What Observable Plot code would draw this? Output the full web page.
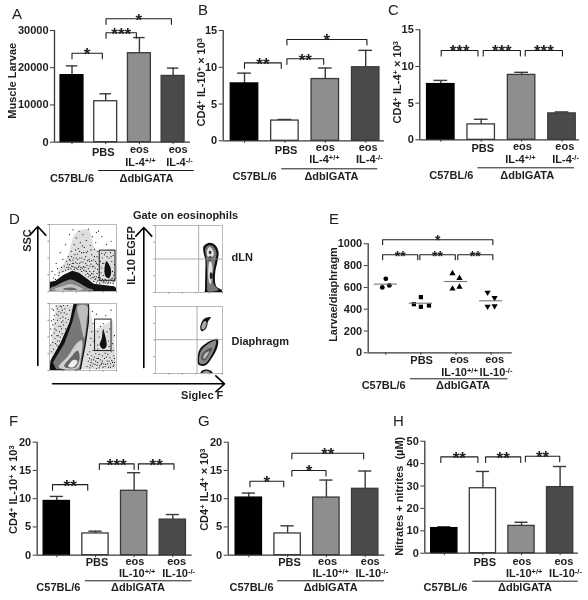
<!DOCTYPE html>
<html><head><meta charset="utf-8">
<script src="https://cdn.jsdelivr.net/npm/d3@7"></script>
<script src="https://cdn.jsdelivr.net/npm/@observablehq/plot@0.6"></script>
<style>
html,body{margin:0;padding:0;background:#fff}
#fig{position:relative;width:588px;height:600px;overflow:hidden;background:#fff;font-family:"Liberation Sans",Arial,sans-serif;filter:blur(.3px)}
#fig svg{position:absolute;overflow:visible;background:transparent}
.letter{position:absolute;font-size:15px;line-height:15px;color:#222}
</style></head><body><div id="fig"></div>
<script>
// ---- values ----
const strain = "C57BL/6", mutant = "ΔdblGATA";
const barFills = ["#000000", "#ffffff", "#8e8e8e", "#4a4a4a"];

const valuesA = [18000, 11000, 23900, 17800];
const errorsA = [20500, 13000, 28100, 19900];
const valuesB = [7.8, 2.75, 8.4, 10.0];
const errorsB = [9.2, 2.9, 9.9, 12.3];
const valuesC = [7.6, 2.1, 8.85, 3.6];
const errorsC = [8.1, 2.8, 9.2, 3.8];
const valuesF = [9.6, 3.85, 11.4, 6.3];
const errorsF = [10.4, 4.25, 14.6, 7.2];
const valuesG = [10.2, 3.85, 10.2, 11.75];
const errorsG = [11.0, 5.2, 13.3, 14.9];
const valuesH = [11.2, 29, 12.2, 29.5];
const errorsH = [11.8, 36.5, 13.8, 38.7];

// from, to, level, stars
const bracketsA = [[0, .9, 23900, "*"], [1.01, 1.91, 29400, "***"], [1.01, 2.95, 33150, "*"]];
const bracketsB = [[0, .91, 10.6, "**"], [1.05, 1.96, 11.15, "**"], [1.05, 3.03, 13.77, "*"]];
const bracketsC = [[.01, .92, 12.18, "***"], [1.05, 1.97, 12.18, "***"], [2.09, 3.01, 12.18, "***"]];
const bracketsE = [[-.09, .91, 899, "**"], [.97, 1.98, 899, "**"], [2.05, 3.05, 899, "**"], [-.09, 3.05, 1037, "*"]];
const bracketsF = [[-.11, .8, 12.5, "**"], [1.1, 2, 16.17, "***"], [2.11, 3.03, 16.17, "**"]];
const bracketsG = [[.03, .9, 13.1, "*"], [1.11, 1.99, 15, "*"], [1.11, 2.96, 18.05, "**"]];
const bracketsH = [[-.09, .87, 43, "**"], [1.07, 1.98, 43, "**"], [2.1, 2.99, 43.3, "**"]];

// text, group position, distance under the axis
const labelsA = [["PBS", .93, 10], ["eos", 2, 7.3], ["eos", 3.15, 7.3], ["IL-4^{+/+}", 2.03, 20], ["IL-4^{-/-}", 3.19, 20], [strain, 0, 36.6], [mutant, 2.21, 36.6]];
const labelsB = [["PBS", 1.03, 9.7], ["eos", 2, 7], ["eos", 3.06, 7], ["IL-4^{+/+}", 1.98, 19], ["IL-4^{-/-}", 3.09, 19], [strain, .25, 35.7], [mutant, 2.15, 35.7]];
const labelsC = [["PBS", 1.04, 9], ["eos", 2.02, 6.7], ["eos", 3.07, 6.7], ["IL-4^{+/+}", 1.97, 19.7], ["IL-4^{-/-}", 3.09, 19.7], [strain, .26, 35.4], [mutant, 2.14, 35.4]];
const labelsE = [["PBS", 1.02, 7.7], ["eos", 2.1, 7], ["eos", 3.1, 7], ["IL-10^{+/+}", 2.1, 19.4], ["IL-10^{-/-}", 3.14, 19.4], [strain, -.06, 32.7], [mutant, 2.2, 32.7]];
const labelsF = [["PBS", 1.04, 7.3], ["eos", 2.02, 6.6], ["eos", 3.1, 6.6], ["IL-10^{+/+}", 2.08, 18.6], ["IL-10^{-/-}", 3.15, 18.6], [strain, .04, 32.6], [mutant, 2.1, 32.6]];
const labelsG = [["PBS", 1.05, 7.3], ["eos", 2.03, 6.6], ["eos", 3.13, 6.6], ["IL-10^{+/+}", 2.11, 18.6], ["IL-10^{-/-}", 3.17, 18.6], [strain, .07, 32.6], [mutant, 2.11, 32.6]];
const labelsH = [["PBS", 1.05, 9.3], ["eos", 2.01, 8.6], ["eos", 3.1, 8.6], ["IL-10^{+/+}", 2.07, 20.6], ["IL-10^{-/-}", 3.14, 20.6], [strain, .03, 34.6], [mutant, 2.09, 34.6]];

// panel E individual animals: group, jitter, value
const pointsCircle = [[0, 0, 679], [0, -.1, 600], [0, .1, 618]];
const pointsSquare = [[1, 0, 511], [1, -.2, 446], [1, 0, 422], [1, .23, 434]];
const pointsUp = [[2, -.1, 728], [2, .1, 685], [2, -.1, 587], [2, .1, 605]];
const pointsDown = [[3, -.1, 553], [3, .1, 504], [3, -.1, 425], [3, .1, 428]];
const meansE = [630, 455, 654, 477];

// panel D: hand-read outlines, in percent of each plot
const sscTopDots = [[22,38],[25,45],[28,52],[30,40],[33,60],[35,47],[37,70],[38,55],[40,80],[41,42],[43,64],[44,90],[45,50],[46,73],[47,36],[48,58],[50,85],[50,44],[52,66],[53,31],[54,52],[55,76],[56,39],[57,60],[58,93],[59,48],[60,30],[61,69],[62,41],[63,55],[64,82],[65,26],[66,47],[67,63],[68,35],[69,73],[70,22],[71,52],[72,40],[73,90],[74,29],[4,30],[8,25],[12,34],[15,28],[18,36],[6,20],[10,42],[20,48],[16,58],[24,70],[30,85],[35,92],[28,33],[33,38],[38,36],[42,33],[76,20],[78,35],[79,50],[80,24],[81,42],[82,55],[83,18],[84,58],[88,22],[89,50],[90,36],[91,58],[92,19],[93,45],[94,30],[95,54],[96,24],[97,40],[78,57],[86,52],[76,45],[96,15],[88,14],[80,13],[72,16],[75,12],[68,18],[85,70],[92,75],[78,82],[70,88],[60,12],[31,46],[36,42],[39,62],[42,48],[45,60],[47,44],[49,68],[51,37],[52,48],[55,58],[58,34],[60,45],[62,62],[64,37],[66,30],[67,52],[70,42],[72,60],[74,50],[77,28],[79,42],[83,30],[85,26],[87,38],[90,27],[92,52],[94,20],[97,28],[54,25],[58,22],[62,20],[66,15],[70,13],[44,38],[48,30],[40,50],[34,42],[26,36],[20,30],[14,24],[9,18],[29,36],[32,34],[35,37],[37,33],[40,35],[43,36],[46,33],[49,35],[51,32],[53,36],[55,30],[57,27],[59,25],[61,24],[63,27],[65,21],[67,22],[69,19],[71,27],[73,21],[75,17],[77,16],[79,18],[81,15],[83,13],[85,16],[87,12],[89,17],[91,13],[93,17],[95,12],[97,19],[24,32],[27,41],[30,48],[33,52],[36,50],[39,44],[42,56],[45,42],[48,50],[51,58],[54,42],[57,46],[60,38],[63,46],[66,38],[69,45],[72,33],[75,38]];
const sscBottomDots = [[4,20],[6,32],[8,48],[9,26],[10,60],[11,38],[12,75],[13,52],[14,88],[15,44],[17,66],[18,95],[19,55],[20,80],[21,68],[23,92],[24,62],[26,84],[27,97],[28,76],[30,90],[5,68],[3,52],[7,82],[4,92],[10,96],[2,38],[16,78],[22,50],[13,36],[8,62],[6,76],[11,84],[15,58],[18,72],[25,72],[60,4],[62,12],[63,22],[64,6],[65,30],[66,16],[68,9],[69,25],[70,3],[71,18],[72,12],[74,24],[75,7],[76,16],[78,11],[79,22],[80,5],[82,18],[83,26],[84,9],[86,14],[87,24],[88,5],[90,19],[91,10],[92,28],[93,15],[95,6],[96,22],[97,12],[61,38],[62,48],[63,58],[65,70],[70,84],[72,38],[74,50],[76,66],[78,42],[80,70],[82,34],[86,58],[88,44],[90,62],[72,58],[66,44],[94,40],[97,52],[64,88],[84,82],[92,90],[60,28],[58,14],[57,24],[56,6],[72,32],[77,30],[86,30],[89,36],[95,30],[3,28],[5,42],[7,56],[9,70],[12,44],[14,66],[16,50],[18,62],[20,74],[22,86],[24,78],[6,90],[12,92],[16,96],[21,97],[3,74],[2,62],[9,40],[11,52],[13,82],[17,86],[19,90],[60,18],[61,8],[63,16],[65,10],[67,20],[69,14],[71,8],[73,18],[74,4],[77,9],[79,14],[81,10],[83,6],[85,20],[87,10],[89,14],[91,5],[94,12],[96,8],[97,18]];
const sscTopShapes = [
  {fill:"#dedede", pts:[[12,26],[26,50],[40,88],[58,92],[70,62],[98,62],[98,14],[60,16],[30,30]]},
  {fill:"#111", curve:"linear-closed", pts:[[0,14],[9,16],[21,25],[34,31],[44,28],[56,19],[66,11.5],[96,8],[100,5],[100,0],[0,0]]},
  {fill:"#888", pts:[[1,5],[10,9],[20,14],[32,18],[44,13],[56,6],[66,2],[60,1],[2,1]]},
  {fill:"#c4c4c4", pts:[[8,4],[20,8],[32,11],[44,7],[50,3],[8,2]]},
  {fill:"#666", pts:[[20,4],[32,6],[42,3],[22,2.5]]},
  {fill:"#111", pts:[[85,45],[82,32],[84,22],[89,20],[92,28],[90,38]]}
];
const sscBottomShapes = [
  {fill:"#dedede", curve:"linear-closed", pts:[[0,25],[10,98],[36,98],[60,98],[66,60],[95,75],[99,2],[45,2]]},
  {fill:"#111", curve:"linear-closed", pts:[[0,0],[1.5,15],[17,42.5],[30,72.5],[36,100],[59,100],[59,72.5],[54,37.5],[49,12.5],[47,1.5]]},
  {fill:"#777", curve:"linear-closed", pts:[[5,12],[22,40],[34,72],[41,100],[58,100],[57,72],[52,38],[47,12],[45,2],[10,2]]},
  {fill:"#bdbdbd", pts:[[42,96],[56,96],[55,72],[52,48],[46,72]]},
  {fill:"#d0d0d0", pts:[[14,5],[28,22],[40,40],[48,45],[47,20],[42,3]]},
  {fill:"#666", pts:[[22,6],[32,20],[42,30],[45,18],[38,4]]},
  {fill:"#eee", pts:[[28,6],[36,16],[42,14],[36,5]]},
  {fill:"#111", pts:[[80,62],[78,48],[75,38],[80,32],[85,36],[84,48],[82,56]]}
];
const egfpTopShapes = [
  {fill:"#111", pts:[[71.8,69],[79,74],[89,71],[94,61],[92.6,46.5],[89,29],[90.6,9.4],[99,3.5],[99,-1],[74.3,-1],[74,7],[74.3,29],[74.3,49],[71.8,59]]},
  {fill:"#777", pts:[[74.5,66],[80,71],[87,68],[91,59],[89,46],[86,29],[87,12],[94,4],[78,2],[77,10],[77,29],[76,50]]},
  {fill:"#e4e4e4", pts:[[77,63],[81,68],[85,64],[87,57],[83,50],[85,38],[84,22],[82,12],[79,20],[79,38],[80,50],[77,56]]},
  {fill:"#333", pts:[[80,62],[83,62],[83,58],[80,58]]},
  {fill:"#555", pts:[[78,52],[82,55],[85,51],[82,46],[78,48]]},
  {fill:"#222", pts:[[82,30],[85,28],[85,22],[82,20],[81,25]]}
];
const egfpBottomShapes = [
  {fill:"#111", pts:[[66.8,68],[71.8,81],[82.7,84],[78.7,78],[75.7,68],[69.3,63]]},
  {fill:"#aaa", pts:[[68.5,69],[72.5,78],[76,77],[74,68],[70,65.5]]},
  {fill:"#111", pts:[[62.9,21],[65.8,36],[76.7,46],[92.6,51.5],[92.6,40],[84,23],[74.3,12],[64.4,13]]},
  {fill:"#8a8a8a", pts:[[65,22],[68,34],[77,43],[90,49],[89,40],[82,25],[74,15],[66,15]]},
  {fill:"#555", pts:[[68,22],[71,31],[79,37],[85,38],[80,28],[73,19]]},
  {fill:"#bbb", pts:[[71,24],[74,30],[80,33],[77,27],[73,22]]},
  {fill:"#111", pts:[[66.8,-1],[69.3,4],[76.7,6],[84,3],[85.6,-1]]},
  {fill:"#999", pts:[[70,0],[72,3],[77,4],[81,2],[82,0]]}
];

// ---- helpers ----
const ink = "#1e1e1e", axisInk = "#3a3a3a";
const fig = document.getElementById("fig");
const textStyle = {fontFamily:'"Liberation Sans",Arial,sans-serif', fontWeight:"bold", fontSize:11, fill:ink};

function superscripts(svg){
  svg.querySelectorAll("text").forEach(t=>{
    if(!t.textContent.includes("^")) return;
    const parts = t.textContent.split(/(\^\{[^}]*\})/);
    t.textContent = "";
    parts.forEach(p=>{
      if(!p) return;
      const s = document.createElementNS("http://www.w3.org/2000/svg","tspan");
      if(p[0]==="^"){ s.textContent = p.slice(2,-1); s.setAttribute("font-size","7.5"); s.setAttribute("baseline-shift","3.5"); }
      else s.textContent = p;
      t.appendChild(s);
    });
  });
}
function place(svg,l,t){ svg.style.left=l+"px"; svg.style.top=t+"px"; superscripts(svg); fig.appendChild(svg); }
function letter(s,x,y){ const d=document.createElement("div"); d.className="letter"; d.textContent=s; d.style.left=x+"px"; d.style.top=y+"px"; fig.appendChild(d); }

function bracketMarks(brackets, legFrac, starFont=17, starDy=1.5){
  const path = brackets.flatMap(([a,b,lv],i)=>[
    {k:i,x:a,y:lv-legFrac},{k:i,x:a,y:lv},{k:i,x:b,y:lv},{k:i,x:b,y:lv-legFrac}]);
  return [
    Plot.line(path,{x:"x",y:"y",z:"k",stroke:ink,strokeWidth:1.1}),
    Plot.text(brackets,{x:d=>(d[0]+d[1])/2,y:d=>d[2],text:d=>d[3],...textStyle,fontSize:starFont,dy:starDy})
  ];
}
function frameMarks(c){
  return [
    Plot.ruleY([0],{stroke:axisInk,strokeWidth:1.3}),
    Plot.ruleX([c.xd[0]],{y1:0,y2:c.yMax,stroke:axisInk,strokeWidth:1.3}),
    Plot.axisY({ticks:c.yTicks,tickFormat:d=>String(d),tickSize:4,tickPadding:2,label:null,stroke:axisInk,...textStyle}),
    Plot.axisX({ticks:[0,1,2,3],tickFormat:()=>"",tickSize:2.5,label:null,stroke:axisInk}),
    Plot.text([c.yLabel],{x:c.xd[0],y:d=>d[2],text:d=>d[0],dx:c.yLabel[1],rotate:-90,...textStyle}),
    ...c.labels.map(d=>Plot.text([d],{x:d[1],y:0,dy:d[2],text:[d[0]],...textStyle})),
    Plot.ruleY([0],{x1:c.under[0],x2:c.under[1],dy:c.under[2],stroke:ink,strokeWidth:1})
  ];
}
function makeScales(c){
  const [l,t,w,h]=c.box;
  c.xd=[(c.x0-c.c0)/c.step,(c.x1-c.c0)/c.step];
  return {width:w,height:h,marginLeft:c.x0-l,marginRight:l+w-c.x1,marginTop:c.yTop-t,marginBottom:t+h-c.yBase,
    x:{domain:c.xd,axis:null},y:{domain:[0,c.yMax],axis:null},style:{background:"transparent"}};
}
function barPanel(c){
  const rows=c.values.map((v,i)=>({i,v,e:c.errors[i],f:barFills[i]}));
  const svg=Plot.plot({...makeScales(c),marks:[
    Plot.ruleX(rows,{x:"i",y1:"v",y2:"e",stroke:axisInk,strokeWidth:1.4}),
    Plot.ruleY(rows,{y:"e",x1:d=>d.i-.17,x2:d=>d.i+.17,stroke:axisInk,strokeWidth:1.4}),
    Plot.rect(rows,{x1:d=>d.i-.34,x2:d=>d.i+.34,y1:0,y2:"v",fill:"f",stroke:d=>d.f==="#000000"?"#000":"#3a3a3a",strokeWidth:1.3}),
    ...frameMarks(c),
    ...bracketMarks(c.brackets,c.yMax*.05)
  ]});
  place(svg,c.box[0],c.box[1]);
}
function flowPlot(l,t,size,shapes,dots,gate,quad){
  const marks=[];
  shapes.forEach((s,i)=>{
    if(dots && i===1) marks.push(Plot.dot(dots,{x:d=>d[0],y:d=>d[1],r:.6,fill:"#111",stroke:"none"}));
    marks.push(Plot.line(s.pts,{x:d=>d[0],y:d=>d[1],fill:s.fill,stroke:"none",curve:s.curve||"catmull-rom-closed",clip:true}));
  });
  if(gate) marks.push(Plot.rect([gate],{x1:d=>d[0],x2:d=>d[1],y1:d=>d[2],y2:d=>d[3],fill:"none",stroke:"#222",strokeWidth:1}));
  if(quad) marks.push(Plot.ruleX([quad[0]],{stroke:"#999",strokeWidth:.8}),Plot.ruleY([quad[1]],{stroke:"#999",strokeWidth:.8}));
  marks.push(Plot.frame({stroke:"#aaa",strokeWidth:.8}));
  marks.push(Plot.axisX({ticks:[20,40,60,80,100],tickFormat:()=>"",tickSize:1.5,label:null,stroke:"#888"}));
  marks.push(Plot.axisY({ticks:[0,25,50,75,100],tickFormat:()=>"",tickSize:1.5,label:null,stroke:"#888"}));
  const svg=Plot.plot({width:size+4,height:size+4,marginLeft:3,marginRight:1,marginTop:1,marginBottom:3,
    x:{domain:[0,100]},y:{domain:[0,100]},style:{background:"transparent"},marks});
  place(svg,l-3,t-1);
}

// ---- panels A, B, C ----
barPanel({box:[0,0,196,192],x0:54,x1:190,c0:71.5,step:33.7,yBase:141.7,yTop:30,yMax:30000,yTicks:[0,10000,20000,30000],
  values:valuesA,errors:errorsA,brackets:bracketsA,labels:labelsA,under:[.79,3.63,28.3],yLabel:["Muscle Larvae",-42.3,16500]});
barPanel({box:[196,0,190,192],x0:222.7,x1:384,c0:244,step:40.4,yBase:140.3,yTop:30,yMax:15,yTicks:[0,5,10,15],
  values:valuesB,errors:errorsB,brackets:bracketsB,labels:labelsB,under:[.92,3.3,28],yLabel:["CD4^{+} IL-10^{+} × 10^{3}",-21.7,7.97]});
barPanel({box:[386,0,202,192],x0:419.3,x1:579,c0:440.3,step:40.4,yBase:139.3,yTop:29.3,yMax:15,yTicks:[0,5,10,15],
  values:valuesC,errors:errorsC,brackets:bracketsC,labels:labelsC,under:[.92,3.31,28],yLabel:["CD4^{+} IL-4^{+} × 10^{3}",-22,7.85]});

// ---- panel D ----
flowPlot(49,224,67,sscTopShapes,sscTopDots,[75,98.5,16,61],null);
flowPlot(49,303,67,sscBottomShapes,sscBottomDots,[68,92.6,29,76],null);
flowPlot(155,224.5,67,egfpTopShapes,null,null,[64.4,50]);
flowPlot(155,305.5,67,egfpBottomShapes,null,null,[62,50.5]);

const arrowsD=[[37.3,365,37.3,226],[143.3,367,143.3,227],[52,383.3,224,383.3]];
const wordsD=[
  ["SSC",27.3,240,-90,"middle"],["IL-10 EGFP",130.7,255,-90,"middle"],["Gate on eosinophils",185,214.7,0,"middle"],
  ["dLN",231,257,0,"start"],["Diaphragm",231,341.3,0,"start"],["Siglec F",201.7,395,0,"middle"]];
place(Plot.plot({width:320,height:195,margin:0,x:{domain:[0,320],axis:null},y:{domain:[205,400],range:[0,195],axis:null},
  style:{background:"transparent"},marks:[
  Plot.arrow(arrowsD,{x1:d=>d[0],y1:d=>d[1],x2:d=>d[2],y2:d=>d[3],stroke:"#000",strokeWidth:1.6,headLength:11,headAngle:85}),
  ...wordsD.map(d=>Plot.text([d],{x:d[1],y:d[2],text:[d[0]],rotate:d[3],textAnchor:d[4],...textStyle}))
]}),0,205);

// ---- panel E ----
(function(){
  const c={box:[320,205,268,195],x0:367.7,x1:511.7,c0:385.3,step:35.1,yBase:352.3,yTop:243.3,yMax:1000,yTicks:[0,200,400,600,800,1000],
    labels:labelsE,under:[.7,3.48,26],yLabel:["Larvae/diaphragm",-34.7,535]};
  const pt={x:d=>d[0]+d[1],y:d=>d[2],fill:"#000",stroke:"none"};
  const svg=Plot.plot({...makeScales(c),marks:[
    Plot.dot(pointsCircle,{...pt,symbol:"circle",r:2.4}),
    Plot.dot(pointsSquare,{...pt,symbol:"square",r:2.4}),
    Plot.dot(pointsUp,{...pt,symbol:"triangle",r:2.3}),
    Plot.dot(pointsDown,{...pt,symbol:"triangle",r:2.3,rotate:180}),
    Plot.ruleY(meansE,{y:d=>d,x1:(d,i)=>i-.33,x2:(d,i)=>i+.33,stroke:"#777",strokeWidth:1.1}),
    ...frameMarks(c),
    ...bracketMarks(bracketsE.slice(0,3),45,14,1.5),
    ...bracketMarks(bracketsE.slice(3),45,14,.5)
  ]});
  place(svg,c.box[0],c.box[1]);
})();

// ---- panels F, G, H ----
barPanel({box:[0,400,196,200],x0:36.7,x1:191.7,c0:56.3,step:38.67,yBase:554.7,yTop:441.7,yMax:20,yTicks:[0,5,10,15,20],
  values:valuesF,errors:errorsF,brackets:bracketsF,labels:labelsF,under:[.74,3.5,25.6],yLabel:["CD4^{+} IL-10^{+} × 10^{3}",-23.7,11.6]});
barPanel({box:[196,400,192,200],x0:227.7,x1:384.3,c0:248.3,step:38.8,yBase:554.7,yTop:441.7,yMax:20,yTicks:[0,5,10,15,20],
  values:valuesG,errors:errorsG,brackets:bracketsG,labels:labelsG,under:[.74,3.5,25.6],yLabel:["CD4^{+} IL-4^{+} × 10^{3}",-23.4,11.6]});
barPanel({box:[388,400,200,200],x0:424.3,x1:578,c0:443.8,step:38.6,yBase:552.7,yTop:440.7,yMax:50,yTicks:[0,10,20,30,40,50],
  values:valuesH,errors:errorsH,brackets:bracketsH,labels:labelsH,under:[.74,3.47,28],yLabel:["Nitrates + nitrites  (µM)",-25.3,25.4]});

[["A",12,6],["B",198,2],["C",388,2],["D",9,211],["E",329,211],["F",9,413],["G",198,413],["H",393,413]].forEach(d=>letter(...d));
</script></body></html>
